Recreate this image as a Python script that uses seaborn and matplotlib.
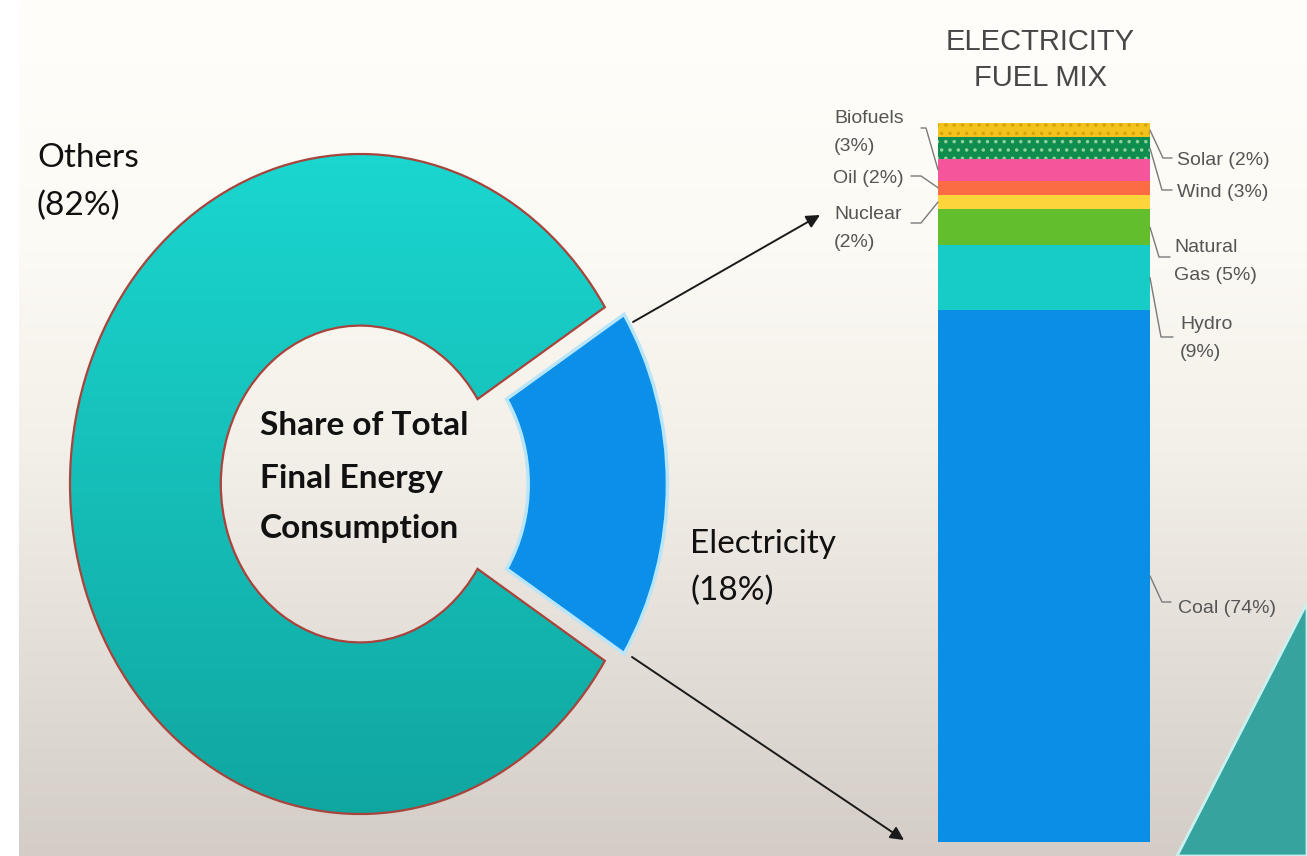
import numpy as np
import pandas as pd
import matplotlib
matplotlib.use("Agg")
import matplotlib.pyplot as plt
import seaborn as sns
from matplotlib.colors import to_rgb
from matplotlib.patches import Polygon, Rectangle

# ---------------- data ----------------
share_labels = ["Electricity", "Others"]
share_values = [18, 82]
share_colors = ["#0b8fe8", "#14c8c1"]
share_texts = ["Electricity\n(18%)", "Others\n(82%)"]
center_title = ["Share of Total", "Final Energy", "Consumption"]

fuel_names = ["Coal", "Hydro", "Natural Gas", "Nuclear", "Oil", "Biofuels", "Wind", "Solar"]
fuel_values = [74, 9, 5, 2, 2, 3, 3, 2]
fuel_colors = ["#0b8fe6", "#17cbc6", "#62be2c", "#fdd43c", "#fb6c44", "#f5559a", "#0e8d4e", "#f3c21c"]
fuel_labels = ["Coal (74%)", "Hydro\n(9%)", "Natural\nGas (5%)", "Nuclear\n(2%)",
               "Oil (2%)", "Biofuels\n(3%)", "Wind (3%)", "Solar (2%)"]
fuel_side = ["right", "right", "right", "left", "left", "left", "right", "right"]
bar_title = ["ELECTRICITY", "FUEL MIX"]

# ---------------- setup ----------------
sns.set_theme(style="white")
plt.rcParams["font.family"] = ["Liberation Sans", "DejaVu Sans"]
plt.rcParams["hatch.linewidth"] = 1.3

W, H = 1307, 856
fig = plt.figure(figsize=(W / 100, H / 100), dpi=100)

# background gradient
bg = fig.add_axes([0, 0, 1, 1], zorder=0)
bg.set_xlim(0, W)
bg.set_ylim(H, 0)
bg.axis("off")
ys = np.arange(H)
stop_y = [0, 250, 450, 650, 856]
stop_c = [to_rgb(c) for c in ["#fffefb", "#fcfaf4", "#f3efe9", "#e4ded8", "#d4cdc7"]]
grad = np.stack([np.interp(ys, stop_y, [c[k] for c in stop_c]) for k in range(3)], axis=-1)
grad = grad[:, None, :]
bg.imshow(grad, extent=(0, W, H, 0), aspect="auto", origin="upper")
bg.add_patch(Rectangle((0, 0), 19, H, color="white", lw=0))
bg.add_patch(Polygon([(1177, H), (W, 603), (W, H)], closed=True,
                     facecolor="#36a39f", edgecolor="#c8f1ef", lw=2))
bg.set_xlim(0, W)
bg.set_ylim(H, 0)

# ---------------- donut ----------------
cx, cy = 360, 484          # center in pixels from top-left
sx, sy = 290, 330          # pixels per unit radius
xl, yl = (-1.2, 1.3), (-1.1, 1.25)
ax_d = fig.add_axes([(cx + xl[0] * sx) / W, (H - cy + yl[0] * sy) / H,
                     (xl[1] - xl[0]) * sx / W, (yl[1] - yl[0]) * sy / H], zorder=1)
wedges, _ = ax_d.pie(share_values, colors=share_colors, startangle=-share_values[0] / 100 * 180,
                     counterclock=True, explode=[0.1, 0],
                     wedgeprops=dict(width=0.52, linewidth=0))
# electricity wedge
wedges[0].set_radius(0.96)
wedges[0].set_width(0.48)
wedges[0].set_edgecolor("#b9e5f8")
wedges[0].set_linewidth(2.5)
# others wedge: gradient fill + red outline
base = np.array(to_rgb(share_colors[1]))
top_c = np.clip(base * 1.06 + 0.02, 0, 1)
bot_c = base * 0.82
g = np.linspace(0, 1, 256)[:, None, None] * (bot_c - top_c) + top_c
im = ax_d.imshow(g, extent=(-1.1, 1.1, -1.1, 1.1), origin="upper", aspect="auto", zorder=2)
im.set_clip_path(wedges[1])
wedges[1].set_facecolor("none")
wedges[1].set_edgecolor("#a8443c")
wedges[1].set_linewidth(1.6)
wedges[1].set_zorder(3)
ax_d.set_aspect("auto")
ax_d.set_xlim(*xl)
ax_d.set_ylim(*yl)
ax_d.axis("off")

# ---------------- stacked bar ----------------
bx0, bx1, by0, by1 = 938, 1150, 123, 842
ax_b = fig.add_axes([bx0 / W, (H - by1) / H, (bx1 - bx0) / W, (by1 - by0) / H], zorder=2)
cum = np.cumsum(fuel_values)
df = pd.DataFrame({"fuel": fuel_names, "share": fuel_values, "top": cum, "mix": "Electricity"})
order = list(range(len(df) - 1, -1, -1))
for i in order:
    sns.barplot(data=df.iloc[[i]], x="mix", y="top", color=fuel_colors[i], width=1.0,
                saturation=1, errorbar=None, linewidth=0, ax=ax_b)
hatch_cols = {"Wind": "#8fd39a", "Solar": "#d6a40c"}
for j, i in enumerate(order):
    name = fuel_names[i]
    if name in hatch_cols:
        p = ax_b.patches[j]
        p.set_hatch("..")
        p.set_edgecolor(hatch_cols[name])
        p.set_linewidth(0)
ax_b.set_xlim(-0.5, 0.5)
ax_b.set_ylim(0, 100)
ax_b.axis("off")

# ---------------- overlay: text, leaders, arrows ----------------
ov = fig.add_axes([0, 0, 1, 1], zorder=5)
ov.set_xlim(0, W)
ov.set_ylim(H, 0)
ov.axis("off")
ov.patch.set_alpha(0)

calib = ["Lato", "DejaVu Sans"]
# Others label
oth = share_texts[1].split("\n")
ov.text(37, 167, oth[0], fontsize=24, family=calib, color="#111", va="baseline")
ov.text(37, 215, oth[1], fontsize=24, family=calib, color="#111", va="baseline")
# Electricity label
el = share_texts[0].split("\n")
ov.text(690, 553, el[0], fontsize=24, family=calib, color="#111", va="baseline")
ov.text(690, 600, el[1], fontsize=24, family=calib, color="#111", va="baseline")
# center title
for line, yb in zip(center_title, [435, 488, 538]):
    ov.text(260, yb, line, fontsize=24, family=calib, fontweight="bold", color="#111", va="baseline")

# bar title
for line, yb in zip(bar_title, [50, 86]):
    ov.text(1040, yb, line, fontsize=21, color="#474747", ha="center", va="baseline")

# fuel labels & leaders
lab_pos = {  # left x, first baseline, leader end (text side), corner x
    "Coal": (1178, 613, (1171, 602), 1162),
    "Hydro": (1180, 329, (1173, 337), 1161),
    "Natural Gas": (1174, 252, (1170, 257), 1159),
    "Nuclear": (834, 219, (911, 223), 921),
    "Oil": (833, 183, (911, 176), 921),
    "Biofuels": (834, 123, (921, 128), 926),
    "Wind": (1177, 197, (1172, 190), 1162),
    "Solar": (1177, 165, (1172, 158), 1163),
}
to_ov = ov.transData.inverted()
starts = cum - np.array(fuel_values)
for i, name in enumerate(fuel_names):
    lx, yb, (ex, ey), cxp = lab_pos[name]
    for k, line in enumerate(fuel_labels[i].split("\n")):
        ov.text(lx, yb + k * 28, line, fontsize=14, color="#555555", va="baseline")
    mid = starts[i] + fuel_values[i] / 2
    side_x = -0.5 if fuel_side[i] == "left" else 0.5
    px, py = to_ov.transform(ax_b.transData.transform((side_x, mid)))
    ov.plot([ex, cxp, px], [ey, ey, py], color="#7a7a7a", lw=1.0, solid_capstyle="round")

# arrows from electricity wedge to bar
arrow_kw = dict(arrowstyle="-|>", color="#1a1a1a", lw=1.4, mutation_scale=20,
                shrinkA=0, shrinkB=0)
ov.annotate("", xy=(820, 215), xytext=(633, 322), arrowprops=arrow_kw)
ov.annotate("", xy=(904, 840), xytext=(632, 657), arrowprops=arrow_kw)

fig.savefig("out.png", dpi=100)
